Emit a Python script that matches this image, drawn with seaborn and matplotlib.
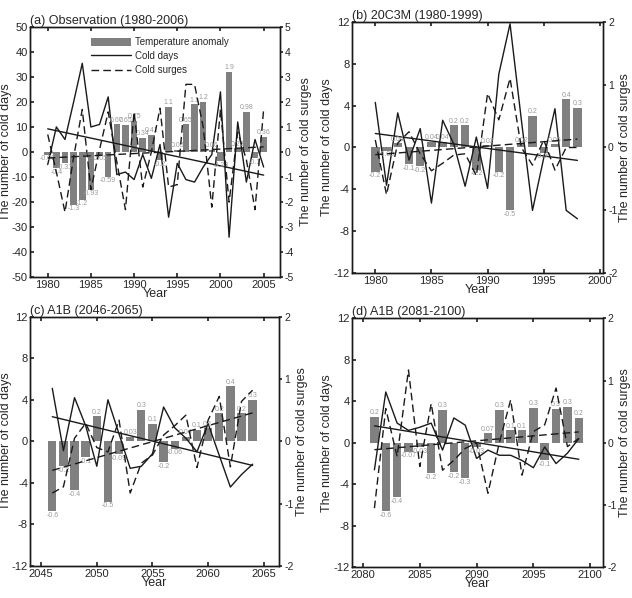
import numpy as np
import pandas as pd
import seaborn as sns
import matplotlib.pyplot as plt
from matplotlib.patches import Patch
from matplotlib.lines import Line2D

# (a) Observation
years_a = list(range(1980, 2006))
bars_a = [-1, -6.5, -4.5, -21, -19, -15, -1, -9.8, 11, 10.7, 12.5, 5.7, 6.8, -3.2, 18, 1,
          11, 19, 20, 1, -3.5, 32, 1.5, 16, -2.5, 6]
labels_a = ['-0.06', '-0.4', '-0.31', '-1.3', '-1.2', '-0.93', '-0.05', '-0.59', '0.67', '0.65',
            '0.75', '0.34', '0.41', '-0.2', '1.1', '0.05', '0.65', '1.1', '1.2', '0.06',
            '-0.23', '1.9', '0.28', '0.98', '-0.1', '0.36']
days_a = [-5, 10, 5, 20, 35.4, 10, 11, 22, -9, -8, -11, -1, -10.5, 3, -26, -4.5, -11, -12,
          -6, -1, 24, -34, 12, -12, 5, -6]
surges_a = [0.7, -0.8, -2.4, -0.2, 1.7, -1.5, 0.1, 1.6, -0.4, -2.3, 1.6, -1.4, 0.0, 1.75,
            -1.4, -1.3, 2.7, 2.7, 1.0, -2.2, 1.7, -2.0, 0.8, -0.3, -2.3, 1.7]

# (b) 20C3M
years_b = list(range(1980, 1999))
bars_b = [-2.3, -0.3, 0.4, -1.6, -1.8, 0.55, 0.55, 2.1, 2.1, -2.1, 0.2, -2.3, -6.0, 0.3,
          3.0, -0.5, 0.3, 4.6, 3.8]
labels_b = ['-0.2', '-0.03', '0.04', '-0.1', '-0.2', '0.04', '0.04', '0.2', '0.2', '-0.2',
            '0.02', '-0.2', '-0.5', '0.02', '0.2', '-0.05', '0.05', '0.4', '0.3']
days_b = [4.3, -3.6, 3.3, -1.2, 1.8, -5.3, 2.6, 0.3, -3.7, 1.0, -3.9, 7.0, 11.8, 2.7,
          -6.0, -1.0, 3.7, -6.0, -6.8]
surges_b = [0.12, -0.75, 0.07, 0.25, -0.1, -0.37, -0.25, -0.12, -0.1, -0.45, 0.86, 0.44,
            1.1, 0.0, -0.28, 0.12, -0.36, 0.0, 0.0]

# (c) A1B 2046-2065
years_c = list(range(2046, 2065))
bars_c = [-6.7, -2.4, -4.7, -1.5, 2.4, -5.8, -1.2, 0.45, 3.0, 1.7, -2.0, -0.7, 0.45, 1.1,
          1.25, 2.7, 5.3, 2.7, 4.0]
labels_c = ['-0.6', '-0.2', '-0.4', '-0.1', '0.2', '-0.5', '-0.09', '0.03', '0.3', '0.1',
            '-0.2', '-0.06', '0.04', '0.1', '0.1', '0.2', '0.4', '0.2', '0.3']
days_c = [5.1, -0.9, 4.2, 1.5, -2.4, 4.0, 0.7, -2.6, -2.4, -1.2, 3.3, 1.3, 0.3, -1.0, 1.7,
          -1.35, -4.4, -3.2, -2.2]
surges_c = [-0.83, -0.73, 0.05, 0.29, -0.1, -0.17, 0.34, -0.83, -0.35, -0.22, 0.1, 0.25,
            0.42, -0.42, 0.34, 0.72, -0.41, 0.64, 0.82]

# (d) A1B 2081-2100
years_d = list(range(2081, 2100))
bars_d = [2.5, -6.6, -5.2, -0.85, -0.4, -2.9, 3.2, -2.8, -3.4, -0.4, 0.9, 3.2, 1.2, 1.2,
          3.4, -1.7, 3.3, 3.5, 2.4]
labels_d = ['0.2', '-0.6', '-0.4', '-0.07', '-0.03', '-0.2', '0.3', '-0.2', '-0.3', '-0.03',
            '0.07', '0.3', '0.1', '0.1', '0.3', '-0.1', '0.3', '0.3', '0.2']
days_d = [-2.6, 4.9, 1.9, 1.2, 1.5, 1.9, -0.7, 2.4, 1.7, -1.5, -0.7, -1.2, -1.2, -1.7,
          -2.4, -0.4, -2.0, -1.0, 0.4]
surges_d = [-1.05, 0.55, -0.22, 1.17, -0.38, 0.63, -0.44, -0.28, -0.09, 0.0, -0.81, 0.0,
            0.69, -0.52, 0.18, 0.29, 0.88, -0.06, 0.07]

sns.set_theme(style="ticks")
plt.rcParams['font.family'] = ['Liberation Sans', 'DejaVu Sans']

BAR = '#808080'
LAB = '#9a9a9a'
DASH = (0, (5.5, 3))


def panel(ax, years, bars, labels, days, surges, title, lim_l, lim_r, xlim, xt, rlab_x):
    ax2 = ax.twinx()
    df = pd.DataFrame({"year": years, "bar": bars, "days": days, "surges": surges})

    sns.barplot(data=df, x="year", y="bar", native_scale=True, color=BAR, saturation=1,
                width=0.75, edgecolor='none', ax=ax, zorder=1)
    span = lim_l[1] - lim_l[0]
    for yr, h, t in zip(years, bars, labels):
        if h >= 0:
            ax.text(yr, h + span * 0.003, t, ha='center', va='bottom', fontsize=5, color=LAB)
        else:
            ax.text(yr, h - span * 0.003, t, ha='center', va='top', fontsize=5, color=LAB)

    sns.lineplot(data=df, x="year", y="days", color='k', lw=1.0, ax=ax)
    sns.regplot(data=df, x="year", y="days", scatter=False, ci=None, color='k',
                line_kws=dict(lw=1.0), ax=ax)
    sns.lineplot(data=df, x="year", y="surges", color='k', lw=1.0, linestyle=DASH, ax=ax2)
    sns.regplot(data=df, x="year", y="surges", scatter=False, ci=None, color='k',
                line_kws=dict(lw=1.0, linestyle=DASH), ax=ax2)

    ax.set_xlim(*xlim)
    ax.set_xticks(xt)
    ax.set_ylim(*lim_l)
    ax2.set_ylim(*lim_r)
    step_l = 10 if lim_l[1] == 50 else 4
    ax.set_yticks(np.arange(lim_l[0], lim_l[1] + 0.1, step_l))
    ax2.set_yticks(np.arange(lim_r[0], lim_r[1] + 0.1, 1))
    ax.set_xticklabels([str(v) for v in xt])
    ax.set_yticklabels([str(int(v)) for v in ax.get_yticks()])
    ax2.set_yticklabels([str(int(v)) for v in ax2.get_yticks()])

    ax.set_xlabel("Year", fontsize=9, labelpad=-1.5)
    ax.set_ylabel("The number of cold days", fontsize=9, labelpad=0)
    ax2.set_ylabel("The number of cold surges", fontsize=9)
    ax2.yaxis.set_label_coords(rlab_x, 0.5)
    ax.set_title(title, loc='left', fontsize=9, pad=1.5)

    ax.tick_params(axis='x', direction='in', top=True, length=3, labelsize=8, pad=2)
    ax.tick_params(axis='y', direction='in', length=3, labelsize=8, pad=1.5)
    ax2.tick_params(axis='y', direction='out', length=2.5, labelsize=7.5, pad=1)
    for a in (ax, ax2):
        for s in a.spines.values():
            s.set_linewidth(1.0)
            s.set_color('k')
    return ax2


fig = plt.figure(figsize=(6.32, 5.98), dpi=100)
ax_a = fig.add_axes([0.0475, 0.5363, 0.3956, 0.419])
ax_b = fig.add_axes([0.5565, 0.543, 0.398, 0.4207])
ax_c = fig.add_axes([0.0475, 0.0535, 0.3945, 0.417])
ax_d = fig.add_axes([0.5565, 0.0513, 0.397, 0.4164])

a2 = panel(ax_a, years_a, bars_a, labels_a, days_a, surges_a, "(a) Observation (1980-2006)",
           (-50, 50), (-5, 5), (1977.95, 2006.9), range(1980, 2006, 5), 1.078)
panel(ax_b, years_b, bars_b, labels_b, days_b, surges_b, "(b) 20C3M (1980-1999)",
      (-12, 12), (-2, 2), (1977.9, 2000.3), range(1980, 2001, 5), 1.063)
panel(ax_c, years_c, bars_c, labels_c, days_c, surges_c, "(c) A1B (2046-2065)",
      (-12, 12), (-2, 2), (2044.0, 2066.4), range(2045, 2066, 5), 1.066)
panel(ax_d, years_d, bars_d, labels_d, days_d, surges_d, "(d) A1B (2081-2100)",
      (-12, 12), (-2, 2), (2079.0, 2101.1), range(2080, 2101, 5), 1.066)

handles = [Patch(facecolor=BAR, edgecolor='none'),
           Line2D([], [], color='k', lw=1.0),
           Line2D([], [], color='k', lw=1.0, linestyle=DASH)]
a2.legend(handles, ["Temperature anomaly", "Cold days", "Cold surges"], loc='upper left',
          bbox_to_anchor=(0.245, 0.958), frameon=False, fontsize=7, handlelength=4.1,
          handleheight=1.0, labelspacing=0.42, handletextpad=0.4, borderaxespad=0,
          borderpad=0)

fig.savefig("out.png", dpi=100)
